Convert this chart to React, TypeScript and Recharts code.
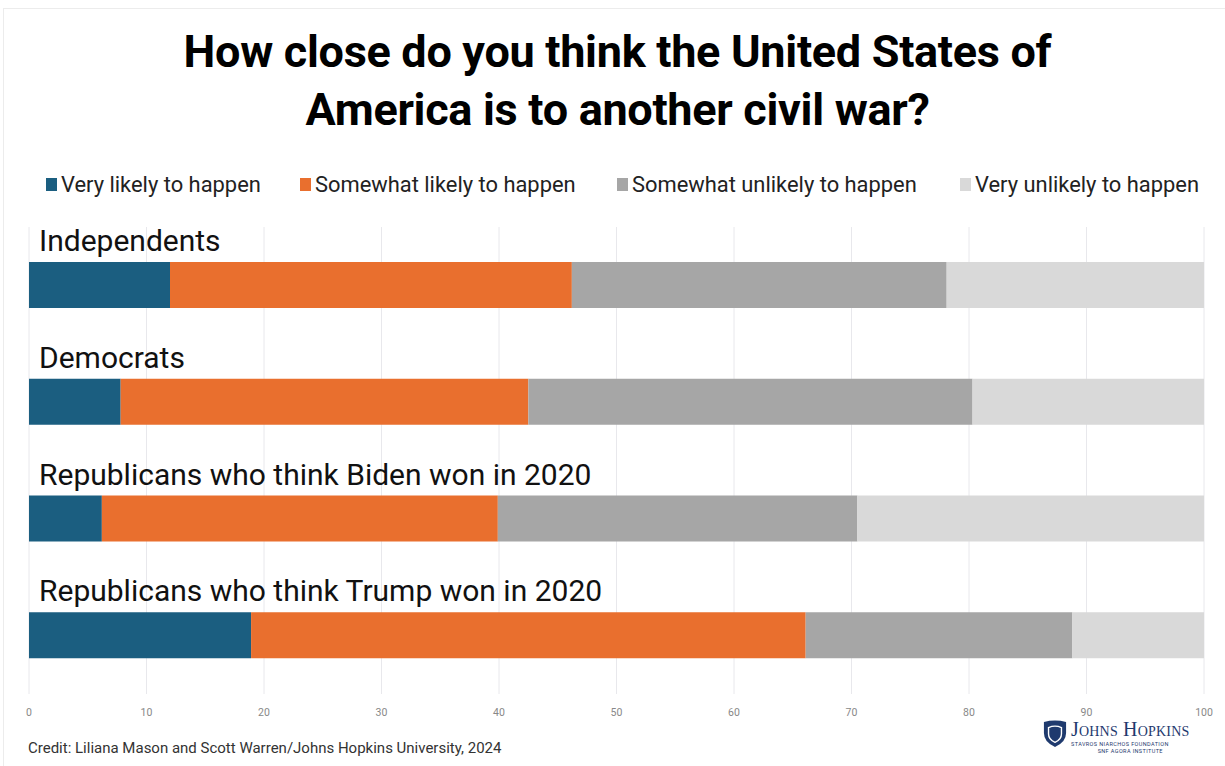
import React from 'react';
import {
  BarChart,
  Bar,
  XAxis,
  YAxis,
  CartesianGrid,
  Legend,
  LabelList,
} from 'recharts';

const groups = [
  'Independents',
  'Democrats',
  'Republicans who think Biden won in 2020',
  'Republicans who think Trump won in 2020',
];
const veryLikely = [12, 7.8, 6.2, 18.9];
const somewhatLikely = [34.2, 34.7, 33.7, 47.2];
const somewhatUnlikely = [31.9, 37.8, 30.6, 22.7];
const veryUnlikely = [21.9, 19.7, 29.5, 11.2];
const xTicks = [0, 10, 20, 30, 40, 50, 60, 70, 80, 90, 100];

const series = [
  { key: 'veryLikely', name: 'Very likely to happen', color: '#1b5e80' },
  { key: 'somewhatLikely', name: 'Somewhat likely to happen', color: '#e96f2e' },
  { key: 'somewhatUnlikely', name: 'Somewhat unlikely to happen', color: '#a6a6a6' },
  { key: 'veryUnlikely', name: 'Very unlikely to happen', color: '#d9d9d9' },
];

const data = groups.map((name, i) => ({
  name,
  veryLikely: veryLikely[i],
  somewhatLikely: somewhatLikely[i],
  somewhatUnlikely: somewhatUnlikely[i],
  veryUnlikely: veryUnlikely[i],
}));

const font = 'Roboto, "Noto Sans", sans-serif';

// group name sits above its bar, left aligned
function GroupLabel(props: any) {
  const { x, y, value } = props;
  return (
    <text x={x + 10} y={y - 11} fontSize={30} fill='#111' fontFamily={font}>
      {value}
    </text>
  );
}

function TopLegend() {
  const lefts = [46, 300, 617, 960];
  return (
    <div style={{ position: 'relative', height: 30, fontFamily: font, fontSize: 21.9, color: '#222' }}>
      {series.map((s, i) => (
        <div
          key={s.key}
          style={{ position: 'absolute', left: lefts[i], top: 0, display: 'flex', alignItems: 'center', whiteSpace: 'nowrap' }}
        >
          <span style={{ width: 11, height: 13, background: s.color, display: 'inline-block', marginRight: 4 }} />
          <span>{s.name}</span>
        </div>
      ))}
    </div>
  );
}

export default function App() {
  return (
    <div
      style={{
        position: 'absolute',
        left: 0,
        top: 0,
        width: 1225,
        height: 766,
        background: '#fff',
        overflow: 'hidden',
        fontFamily: font,
      }}
    >
      <div
        style={{
          position: 'absolute',
          left: 3,
          top: 8,
          right: 0,
          bottom: 0,
          borderLeft: '1px solid #ececec',
          borderTop: '1px solid #ececec',
        }}
      />
      <div
        style={{
          position: 'absolute',
          left: 0,
          top: 23,
          width: 1235,
          textAlign: 'center',
          fontSize: 45,
          fontWeight: 700,
          lineHeight: '58px',
          letterSpacing: -0.3,
          color: '#000',
        }}
      >
        How close do you think the United States of
        <br />
        America is to another civil war?
      </div>
      <div style={{ position: 'absolute', left: 0, top: 0 }}>
        <BarChart
          width={1225}
          height={766}
          data={data}
          layout='vertical'
          barSize={46}
          margin={{ top: 227, right: 21, bottom: 42, left: 29 }}
        >
          <CartesianGrid horizontal={false} stroke='#e8e8ec' />
          <XAxis
            type='number'
            domain={[0, 100]}
            ticks={xTicks}
            axisLine={false}
            tickLine={false}
            tickMargin={9}
            height={30}
            tick={{ fontSize: 10.5, fill: '#888', fontFamily: font }}
          />
          <YAxis type='category' dataKey='name' hide />
          <Legend
            layout='vertical'
            align='center'
            verticalAlign='middle'
            content={<TopLegend />}
            wrapperStyle={{ top: 172, left: 0, width: 1225 }}
          />
          {series.map((s, i) => (
            <Bar
              key={s.key}
              dataKey={s.key}
              name={s.name}
              stackId='a'
              fill={s.color}
              isAnimationActive={false}
            >
              {i === 0 && <LabelList dataKey='name' content={<GroupLabel />} />}
            </Bar>
          ))}
        </BarChart>
      </div>
      <div style={{ position: 'absolute', left: 28, top: 739, fontSize: 15, color: '#333' }}>
        Credit: Liliana Mason and Scott Warren/Johns Hopkins University, 2024
      </div>
      <div style={{ position: 'absolute', left: 1043, top: 720, display: 'flex', alignItems: 'flex-start' }}>
        <svg width={24} height={28} viewBox='0 0 26 30'>
          <path d='M1 2 Q13 -1 25 2 L25 14 Q25 24 13 29 Q1 24 1 14 Z' fill='#1f3a6e' />
          <path d='M6 8 Q13 5 20 8 L20 15 Q20 21 13 24 Q6 21 6 15 Z' fill='none' stroke='#fff' strokeWidth={1.5} />
        </svg>
        <div style={{ marginLeft: 4, color: '#1f3a6e', fontFamily: '"Liberation Serif", serif' }}>
          <div style={{ fontSize: 20, lineHeight: '18px', fontVariant: 'small-caps', letterSpacing: 0.2 }}>Johns Hopkins</div>
          <div style={{ fontSize: 5.5, lineHeight: '8px', letterSpacing: 0.4, fontFamily: font, marginTop: 2 }}>
            STAVROS NIARCHOS FOUNDATION
          </div>
          <div style={{ fontSize: 5.5, lineHeight: '7px', letterSpacing: 0.4, fontFamily: font, textAlign: 'center' }}>
            SNF AGORA INSTITUTE
          </div>
        </div>
      </div>
    </div>
  );
}
